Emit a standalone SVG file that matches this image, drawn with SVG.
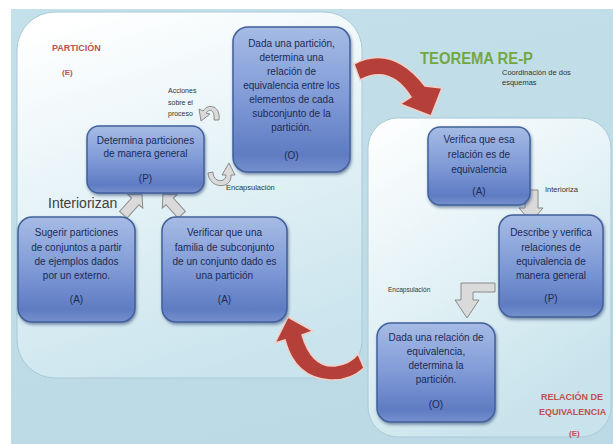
<svg xmlns="http://www.w3.org/2000/svg" width="613" height="444" viewBox="0 0 613 444">
<defs>
<linearGradient id="bg" x1="0" y1="0" x2="0.3" y2="1"><stop offset="0" stop-color="#c4e0ea"/><stop offset="1" stop-color="#bcdae5"/></linearGradient>
<linearGradient id="panelL" x1="0.2" y1="0" x2="0.5" y2="1"><stop offset="0" stop-color="#ffffff"/><stop offset="0.45" stop-color="#e6f3f7"/><stop offset="1" stop-color="#cae4ed"/></linearGradient>
<linearGradient id="panelR" x1="0" y1="0" x2="0.5" y2="1"><stop offset="0" stop-color="#ffffff"/><stop offset="0.5" stop-color="#e4f2f6"/><stop offset="1" stop-color="#c8e3ec"/></linearGradient>
<linearGradient id="box" x1="0" y1="0" x2="0" y2="1"><stop offset="0" stop-color="#a6bbe5"/><stop offset="0.5" stop-color="#7f9ad6"/><stop offset="0.88" stop-color="#5f7cc3"/><stop offset="1" stop-color="#7690cd"/></linearGradient>
<filter id="sh" x="-10%" y="-10%" width="125%" height="125%"><feDropShadow dx="1" dy="2" stdDeviation="1.5" flood-color="#27406e" flood-opacity="0.55"/></filter>
<style>
.node{fill:url(#box);stroke:#42609b;stroke-width:1.5;filter:url(#sh)}
.t{font-family:"Liberation Sans",Arial,sans-serif;font-size:10px;fill:#1c2a55;text-anchor:middle}
.lbl{font-family:"Liberation Sans",Arial,sans-serif;font-size:7.5px;fill:#333}
.red{font-family:"Liberation Sans",Arial,sans-serif;font-size:9px;font-weight:bold;fill:#c0504d}
.gray{fill:#dadada;stroke:#8a8a8a;stroke-width:1}
.redarrow{fill:#b5403a;stroke:#f0d0c8;stroke-width:1.5}
</style>
</defs>
<rect x="0" y="0" width="613" height="444" fill="#ffffff"/>
<rect x="11" y="9" width="602" height="435" fill="url(#bg)"/>
<rect x="17" y="12" width="345" height="366" rx="38" fill="url(#panelL)" stroke="#a9cad6" stroke-width="1"/>
<rect x="368" y="118" width="243" height="319" rx="30" fill="url(#panelR)" stroke="#a9cad6" stroke-width="1"/>

<g id="labels">
<text class="red" x="52" y="51">PARTICIÓN</text>
<text class="red" x="62" y="75" style="font-size:8px">(E)</text>
<text x="420" y="64" font-family="Liberation Sans, Arial, sans-serif" font-size="16" font-weight="bold" fill="#72a844" textLength="113" lengthAdjust="spacingAndGlyphs">TEOREMA RE-P</text>
<text class="lbl" x="502" y="75">Coordinación de dos</text>
<text class="lbl" x="502" y="85">esquemas</text>
<text class="lbl" x="168" y="93" style="font-size:7px">Acciones</text>
<text class="lbl" x="168" y="105" style="font-size:7px">sobre el</text>
<text class="lbl" x="168" y="116" style="font-size:7px">proceso</text>
<text class="lbl" x="226" y="190">Encapsulación</text>
<text x="48" y="208" font-family="Liberation Sans, Arial, sans-serif" font-size="14" fill="#404040">Interiorizan</text>
<text class="lbl" x="545" y="192">Interioriza</text>
<text class="lbl" x="388" y="292" style="font-size:6.5px">Encapsulación</text>
<text class="red" x="541" y="400">RELACIÓN DE</text>
<text class="red" x="539" y="415">EQUIVALENCIA</text>
<text class="red" x="569" y="436" style="font-size:8px">(E)</text>
</g>

<g id="connectors">
<path class="redarrow" d="M354,64 Q392,44 425,86 L442,88 L431,116 L400,104 L411,97 Q390,64 360,80 Z"/>
<path class="redarrow" d="M288,317 L313,331 L302,335 Q312,368 335,366 Q350,364 358,354 L364,368 Q350,381 330,380 Q295,378 285,340 L275,343 Z"/>
<polygon class="gray" transform="translate(142,194) rotate(42)" points="0,0 10,10 5,10 5,28 -5,28 -5,10 -10,10"/>
<polygon class="gray" transform="translate(163,194) rotate(-42)" points="0,0 10,10 5,10 5,28 -5,28 -5,10 -10,10"/>
<polygon class="gray" points="525,190 538,190 538,208 543,208 531,222 519,208 525,208"/>
<polygon class="gray" points="495,283 461,283 461,300 455,300 467,318 479,300 473,300 473,292 495,292"/>
<path class="gray" d="M219,120 C221,107 209,102 203,111 L199,109 L201,121 L210,114 L206,113 C210,108 215,110 214,120 Z"/>
<path class="gray" d="M208,173 C209,189 232,190 231,175 L235,175 L229,163 L222,175 L226,175 C226,183 213,183 213,172 Z"/>
</g>

<g id="node1"><rect class="node" x="233" y="27" width="117" height="145" rx="15"/>
<text class="t" x="291.5" y="47">Dada una partición,</text>
<text class="t" x="291.5" y="61">determina una</text>
<text class="t" x="291.5" y="75">relación de</text>
<text class="t" x="291.5" y="89">equivalencia entre los</text>
<text class="t" x="291.5" y="103">elementos de cada</text>
<text class="t" x="291.5" y="117">subconjunto de la</text>
<text class="t" x="291.5" y="131">partición.</text>
<text class="t" x="291.5" y="159">(O)</text></g>

<g id="node2"><rect class="node" x="87" y="126" width="117" height="67" rx="12"/>
<text class="t" x="145.5" y="144">Determina particiones</text>
<text class="t" x="145.5" y="157">de manera general</text>
<text class="t" x="145.5" y="182">(P)</text></g>

<g id="node3"><rect class="node" x="18" y="217" width="117" height="105" rx="14"/>
<text class="t" x="76.5" y="236">Sugerir particiones</text>
<text class="t" x="76.5" y="251">de conjuntos a partir</text>
<text class="t" x="76.5" y="265">de ejemplos dados</text>
<text class="t" x="76.5" y="279">por un externo.</text>
<text class="t" x="76.5" y="303">(A)</text></g>

<g id="node4"><rect class="node" x="162" y="217" width="125" height="105" rx="14"/>
<text class="t" x="224.5" y="236">Verificar que una</text>
<text class="t" x="224.5" y="251">familia de subconjunto</text>
<text class="t" x="224.5" y="265">de un conjunto dado es</text>
<text class="t" x="224.5" y="279">una partición</text>
<text class="t" x="224.5" y="303">(A)</text></g>

<g id="node5"><rect class="node" x="428" y="127" width="102" height="78" rx="12"/>
<text class="t" x="479" y="143">Verifica que esa</text>
<text class="t" x="479" y="158">relación es de</text>
<text class="t" x="479" y="173">equivalencia</text>
<text class="t" x="479" y="195">(A)</text></g>

<g id="node6"><rect class="node" x="499" y="215" width="104" height="102" rx="14"/>
<text class="t" x="551" y="236">Describe y verifica</text>
<text class="t" x="551" y="251">relaciones de</text>
<text class="t" x="551" y="265">equivalencia de</text>
<text class="t" x="551" y="279">manera general</text>
<text class="t" x="551" y="302">(P)</text></g>

<g id="node7"><rect class="node" x="377" y="323" width="118" height="99" rx="14"/>
<text class="t" x="436" y="341">Dada una relación de</text>
<text class="t" x="436" y="355">equivalencia,</text>
<text class="t" x="436" y="369">determina la</text>
<text class="t" x="436" y="383">partición.</text>
<text class="t" x="436" y="408">(O)</text></g>
</svg>
